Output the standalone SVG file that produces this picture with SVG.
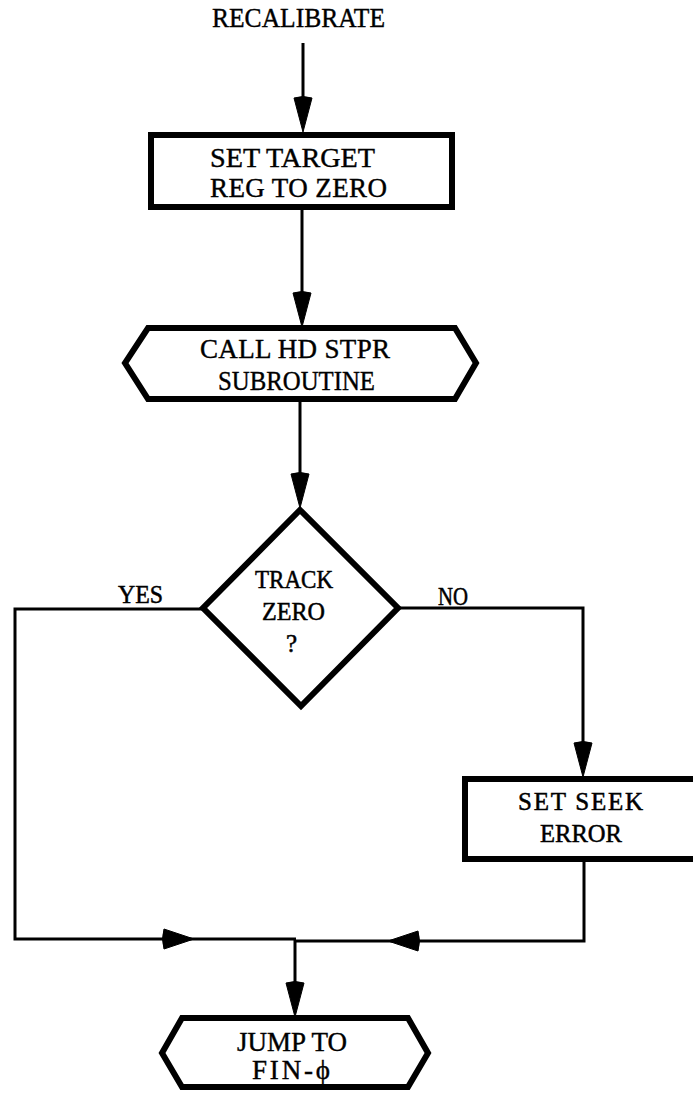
<svg xmlns="http://www.w3.org/2000/svg" width="693" height="1093" viewBox="0 0 693 1093">
<style>
  .bg { fill: #ffffff; }
  .shape { fill: #ffffff; stroke: #000; stroke-width: 6; stroke-linejoin: miter; }
  .line { fill: none; stroke: #000; stroke-width: 3; stroke-linejoin: miter; }
  .head { fill: #000; stroke: #000; stroke-width: 1; stroke-linejoin: round; }
  .type { font-family: "Liberation Serif", "Times New Roman", serif; font-size: 27px; fill: #000; stroke: #000; stroke-width: 0.4; }
  .serif { font-family: "Liberation Serif", "Times New Roman", serif; font-size: 25px; fill: #000; stroke: #000; stroke-width: 0.5; }
</style>
<defs>
  <path id="ahDown" d="M0,0 L-9,-34 Q0,-37 9,-34 Z"/>
  <path id="ahRight" d="M0,0 L-30,-10 Q-33,0 -30,10 Z"/>
  <path id="ahLeft" d="M0,0 L30,-10 Q33,0 30,10 Z"/>
</defs>
<rect class="bg" x="0" y="0" width="693" height="1093"/>

<g id="connectors">
  <path class="line" d="M303,43 V110"/>
  <use href="#ahDown" class="head" x="303" y="132"/>
  <path class="line" d="M302,210 V305"/>
  <use href="#ahDown" class="head" x="302" y="327"/>
  <path class="line" d="M300,400 V488"/>
  <use href="#ahDown" class="head" x="300" y="508"/>
  <path class="line" d="M203,609 H15 V939 H296"/>
  <use href="#ahRight" class="head" x="194" y="939"/>
  <path class="line" d="M398,608 H583 V757"/>
  <use href="#ahDown" class="head" x="583" y="777"/>
  <path class="line" d="M584,860 V941 H296"/>
  <use href="#ahLeft" class="head" x="388" y="941"/>
  <path class="line" d="M295,940 V997"/>
  <use href="#ahDown" class="head" x="295" y="1017"/>
  <text class="serif" x="118" y="603" textLength="45" lengthAdjust="spacingAndGlyphs">YES</text>
  <text class="serif" x="438" y="605" textLength="30" lengthAdjust="spacingAndGlyphs">NO</text>
</g>

<g id="start">
  <text class="type" x="212" y="27" font-size="26" textLength="173" lengthAdjust="spacingAndGlyphs">RECALIBRATE</text>
</g>

<g id="set-target">
  <rect class="shape" x="151" y="135" width="301" height="72"/>
  <text class="type" x="210" y="167" textLength="165" lengthAdjust="spacingAndGlyphs">SET TARGET</text>
  <text class="type" x="210" y="197" textLength="177" lengthAdjust="spacing">REG TO ZERO</text>
</g>

<g id="call-hd-stpr">
  <polygon class="shape" points="148,328 455,328 476,363 455,399 148,399 125,363"/>
  <text class="type" x="200" y="358" textLength="190" lengthAdjust="spacing">CALL HD STPR</text>
  <text class="type" x="218" y="390" textLength="157" lengthAdjust="spacingAndGlyphs">SUBROUTINE</text>
</g>

<g id="track-zero">
  <polygon class="shape" points="300,510 398,608 301,706 203,608"/>
  <text class="serif" x="255" y="588" textLength="78" lengthAdjust="spacingAndGlyphs">TRACK</text>
  <text class="serif" x="262" y="620" textLength="63" lengthAdjust="spacingAndGlyphs">ZERO</text>
  <text class="serif" x="286" y="652">?</text>
</g>

<g id="set-seek-error">
  <rect class="shape" x="465" y="779" width="240" height="80"/>
  <text class="serif" x="518" y="810" font-size="27" textLength="125" lengthAdjust="spacing">SET SEEK</text>
  <text class="serif" x="540" y="842" font-size="27" textLength="82" lengthAdjust="spacingAndGlyphs">ERROR</text>
</g>

<g id="jump-fin">
  <polygon class="shape" points="182,1018 408,1018 428,1053 408,1087 182,1087 162,1053"/>
  <text class="type" x="237" y="1051" font-size="24" textLength="110" lengthAdjust="spacing">JUMP TO</text>
  <text class="type" x="252" y="1079" font-size="24" textLength="78" lengthAdjust="spacing">FIN-ϕ</text>
</g>
</svg>
